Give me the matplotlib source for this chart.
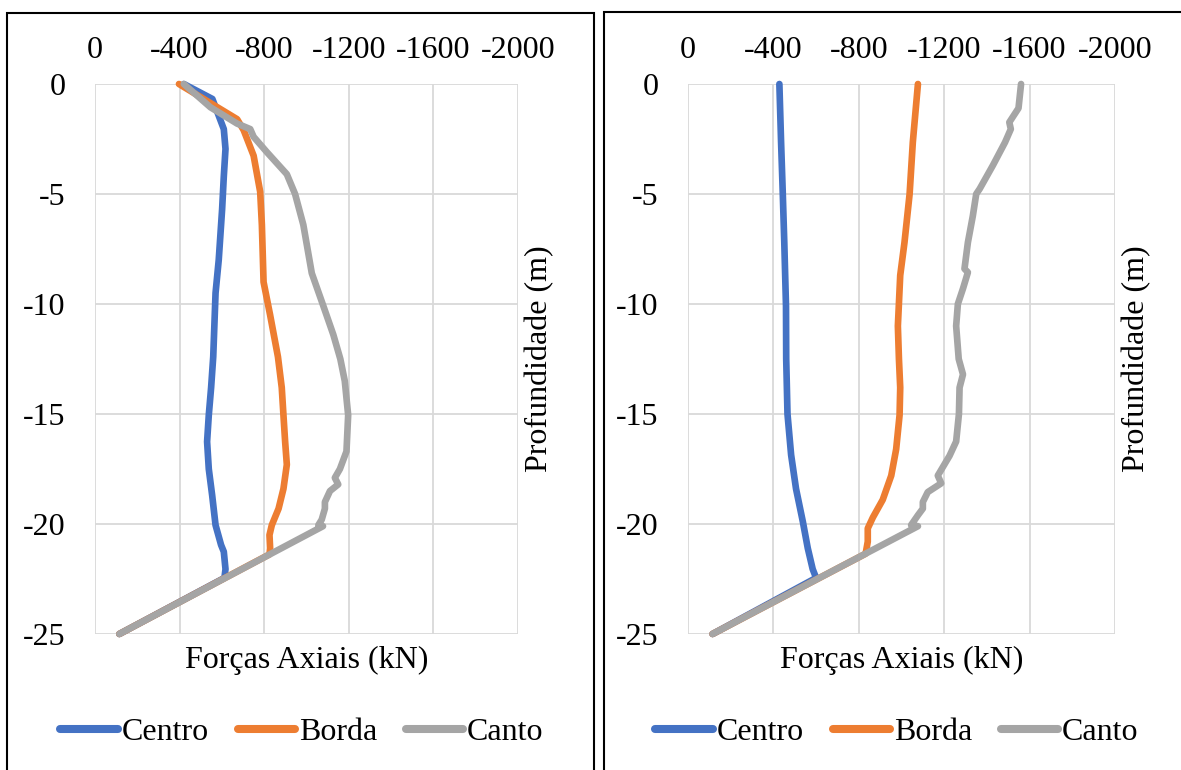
import matplotlib
matplotlib.use("Agg")
import matplotlib.pyplot as plt
from matplotlib.lines import Line2D
from matplotlib.patches import Rectangle

plt.rcParams['font.family'] = ['Liberation Serif', 'DejaVu Serif']

# ---- data: axial force (kN) along depth (m) ----
# left group
left_centro_depth = [0, -0.68, -1.44, -2.05, -2.95, -4.2, -5.7, -8.0, -9.5, -12.4, -13.8,
                     -15.05, -16.26, -17.5, -18.7, -20.05, -20.95, -21.26, -22.05, -22.45, -25]
left_centro_force = [-420, -555, -585, -609, -617, -609, -601, -585, -570, -559, -549,
                     -538, -530, -538, -554, -570, -596, -609, -617, -612, -115]

left_borda_depth = [0, -1.6, -2.1, -3.26, -4.9, -6.4, -9.0, -10.5, -12.4, -13.8, -15.05,
                    -16.26, -17.3, -18.4, -19.3, -20.05, -20.5, -21.1, -21.38, -25]
left_borda_force = [-397, -672, -703, -750, -781, -789, -797, -828, -865, -883, -891,
                    -899, -907, -891, -868, -836, -825, -828, -825, -115]

left_canto_depth = [0, -1.06, -1.8, -2.05, -2.4, -3.1, -4.1, -5.0, -6.4, -8.6, -10.1, -11.4,
                    -12.5, -13.5, -15.05, -16.7, -17.5, -17.9, -18.2, -18.5, -19.0, -19.3,
                    -19.8, -20.05, -20.1, -25]
left_canto_force = [-420, -546, -672, -734, -750, -813, -907, -946, -985, -1025, -1080, -1127,
                    -1160, -1181, -1197, -1189, -1158, -1134, -1150, -1111, -1087, -1087,
                    -1072, -1056, -1078, -115]

# right group
right_centro_depth = [0, -2.65, -5, -7.2, -10.1, -12.5, -15, -16.86, -18.4, -19.9, -21.1,
                      -22.05, -22.45, -25]
right_centro_force = [-428, -436, -444, -451, -459, -460, -466, -483, -506, -538, -561,
                      -584, -600, -115]

right_borda_depth = [0, -2.65, -5, -7.2, -8.7, -11, -12.5, -13.8, -15.05, -16.6, -17.8,
                     -18.9, -19.7, -20.2, -20.8, -21.35, -25]
right_borda_force = [-1077, -1053, -1038, -1014, -994, -983, -988, -994, -991, -975, -952,
                     -912, -866, -842, -842, -832, -115]

right_canto_depth = [0, -1.1, -1.74, -2.05, -2.65, -3.7, -4.77, -5.0, -6.0, -7.2, -8.4, -8.56,
                     -9.3, -10.0, -11.0, -12.5, -13.2, -13.8, -15.0, -16.25, -16.9, -17.8,
                     -18.15, -18.55, -19.0, -19.3, -19.6, -20.05, -20.1, -25]
right_canto_force = [-1560, -1548, -1505, -1512, -1485, -1428, -1366, -1350, -1334, -1311,
                     -1295, -1311, -1288, -1264, -1256, -1268, -1288, -1272, -1269, -1256,
                     -1225, -1170, -1186, -1123, -1100, -1100, -1077, -1045, -1077, -115]

series_names = ['Centro', 'Borda', 'Canto']
series_colors = ['#4472C4', '#ED7D31', '#A5A5A5']

x_ticks = [0, -400, -800, -1200, -1600, -2000]
x_tick_labels = ['0', '-400', '-800', '-1200', '-1600', '-2000']
y_ticks = [0, -5, -10, -15, -20, -25]
y_tick_labels = ['0', '-5', '-10', '-15', '-20', '-25']

x_title = 'Forças Axiais (kN)'
y_title = 'Profundidade (m)'

FS = 23
W, H = 1181, 770

fig = plt.figure(figsize=(W / 100, H / 100), dpi=100)


def panel(rect, data, box, legend_x):
    ax = fig.add_axes(rect)
    for (dep, frc), name, col in zip(data, series_names, series_colors):
        ax.plot(frc, dep, color=col, lw=4.8, solid_capstyle='round',
                solid_joinstyle='round', clip_on=False, label=name)
    ax.set_xlim(0, -2000)
    ax.set_ylim(-25, 0)
    ax.set_xticks(x_ticks)
    ax.set_xticklabels(x_tick_labels)
    ax.set_yticks(y_ticks)
    ax.set_yticklabels(y_tick_labels)
    ax.xaxis.tick_top()
    ax.tick_params(axis='x', length=0, pad=14, labelsize=FS)
    ax.tick_params(axis='y', length=0, pad=21, labelsize=FS)
    for s in ax.spines.values():
        s.set_visible(False)
    ax.grid(True, color='#D9D9D9', lw=1.3)
    ax.set_axisbelow(True)

    x0, y0, w, h = rect
    fig.text(x0 + w / 2, 1 - 660 / H, x_title, ha='center', va='center', fontsize=FS)
    fig.text(x0 + w + 22 / W, y0 + h / 2, y_title, ha='center', va='center',
             rotation=90, fontsize=FS)

    handles = [Line2D([], [], color=c, lw=5.8, solid_capstyle='round') for c in series_colors]
    fig.legend(handles, series_names, loc='center', bbox_to_anchor=(legend_x, 1 - 732 / H),
               ncol=3, frameon=False, fontsize=FS, handlelength=1.8, handletextpad=0.12,
               columnspacing=0.9, borderaxespad=0, borderpad=0)

    bx0, by_top, bx1 = box
    fig.add_artist(Rectangle((bx0 / W, -0.05), (bx1 - bx0) / W, (1 - by_top / H) + 0.05,
                             transform=fig.transFigure, fill=False, ec='black', lw=1.5,
                             clip_on=False))
    return ax


left_data = [(left_centro_depth, left_centro_force),
             (left_borda_depth, left_borda_force),
             (left_canto_depth, left_canto_force)]
right_data = [(right_centro_depth, right_centro_force),
              (right_borda_depth, right_borda_force),
              (right_canto_depth, right_canto_force)]

panel([95 / W, 1 - 634 / H, 423 / W, 550 / H], left_data, (6.5, 13, 594), 302 / W)
panel([688 / W, 1 - 634 / H, 427 / W, 550 / H], right_data, (603.5, 12, 1190), 897 / W)

fig.savefig('out.png', dpi=100)
